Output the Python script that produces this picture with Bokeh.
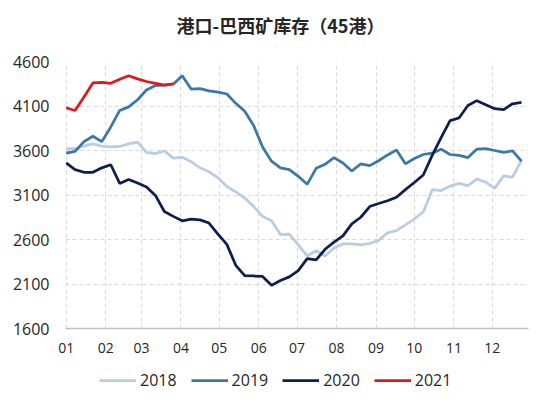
from bokeh.plotting import figure
from bokeh.models import Range1d, FixedTicker, Legend, LegendItem, Label
from bokeh.layouts import column
from bokeh.embed import file_html
from bokeh.resources import INLINE

title_text = "港口-巴西矿库存（45港）"
months = ["01", "02", "03", "04", "05", "06", "07", "08", "09", "10", "11", "12"]
month_start_day = [0, 31, 59, 90, 120, 151, 181, 212, 243, 273, 304, 334]
y_ticks = [1600, 2100, 2600, 3100, 3600, 4100, 4600]
series_names = ["2018", "2019", "2020", "2021"]

weeks = list(range(52))

s2018 = [3620, 3620, 3650, 3675, 3650, 3640, 3645, 3675, 3695, 3580,
         3565, 3595, 3515, 3525, 3475, 3405, 3360, 3295, 3195, 3135,
         3065, 2970, 2860, 2810, 2655, 2660, 2540, 2415, 2475, 2415,
         2505, 2550, 2550, 2540, 2555, 2590, 2675, 2700, 2765, 2830,
         2910, 3160, 3150, 3200, 3230, 3205, 3280, 3245, 3175, 3315,
         3300, 3490]

s2019 = [3570, 3590, 3700, 3760, 3700, 3865, 4050, 4090, 4170, 4280,
         4330, 4335, 4345, 4440, 4290, 4295, 4270, 4255, 4235, 4130,
         4040, 3880, 3640, 3480, 3405, 3385, 3310, 3220, 3400, 3445,
         3520, 3460, 3370, 3450, 3430, 3485, 3550, 3605, 3450, 3510,
         3555, 3570, 3615, 3555, 3545, 3520, 3615, 3620, 3600, 3580,
         3595, 3480]

s2020 = [3460, 3385, 3355, 3355, 3405, 3440, 3230, 3275, 3235, 3190,
         3095, 2915, 2860, 2810, 2830, 2820, 2785, 2660, 2545, 2310,
         2195, 2190, 2185, 2085, 2140, 2180, 2250, 2385, 2370, 2490,
         2570, 2640, 2775, 2850, 2970, 3005, 3035, 3075, 3160, 3240,
         3325, 3545, 3745, 3935, 3965, 4105, 4160, 4115, 4070, 4060,
         4125, 4140]

s2021 = [4080, 4050, 4200, 4360, 4365, 4355, 4400, 4440, 4405, 4375,
         4355, 4335, 4350]

colors = ["#b8cde3", "#3a78a8", "#0e1f4e", "#e0161b"]
series = [s2018, s2019, s2020, s2021]

day = [w * 7 for w in weeks]

font = "Open Sans"


def strip(height):
    f = figure(width=550, height=height, output_backend="svg", toolbar_location=None,
               x_axis_location=None, y_axis_location=None,
               min_border_left=0, min_border_right=0, min_border_top=0,
               min_border_bottom=0, x_range=Range1d(0, 1), y_range=Range1d(0, 1))
    f.title.text = ""
    f.outline_line_color = None
    f.xgrid.visible = False
    f.ygrid.visible = False
    f.border_fill_color = "white"
    f.background_fill_color = "white"
    return f


# title strip
t = strip(40)
t.add_layout(Label(x=215, y=16, x_units="screen", y_units="screen", text=title_text,
                   text_align="center", text_baseline="middle",
                   text_font="Noto Sans CJK SC", text_font_style="bold",
                   text_font_size="18px", text_color="#262626"))

# main chart
p = figure(width=550, height=320, output_backend="svg", toolbar_location=None,
           x_range=Range1d(-0.5, 362.5), y_range=Range1d(1600, 4600),
           min_border_left=65, min_border_right=22, min_border_top=21,
           min_border_bottom=32)
p.title.text = ""
p.outline_line_color = None
p.background_fill_color = "white"
p.border_fill_color = "white"

p.yaxis.ticker = FixedTicker(ticks=y_ticks)
p.yaxis.axis_line_color = None
p.yaxis.major_tick_line_color = None
p.yaxis.minor_tick_line_color = None
p.yaxis.major_label_text_font = font
p.yaxis.major_label_text_font_size = "16px"
p.yaxis.major_label_text_color = "#262626"
p.yaxis.major_label_standoff = 10

p.xaxis.ticker = FixedTicker(ticks=month_start_day)
p.xaxis.major_label_overrides = {d: m for d, m in zip(month_start_day, months)}
p.xaxis.axis_line_color = "#bfbfbf"
p.xaxis.axis_line_width = 1.5
p.xaxis.major_tick_line_color = None
p.xaxis.minor_tick_line_color = None
p.xaxis.major_label_text_font = font
p.xaxis.major_label_text_font_size = "14px"
p.xaxis.major_label_text_color = "#262626"
p.xaxis.major_label_standoff = 8

p.xgrid.ticker = FixedTicker(ticks=month_start_day)
p.ygrid.ticker = FixedTicker(ticks=y_ticks[1:])
for g in (p.xgrid, p.ygrid):
    g.grid_line_color = "#d9d9d9"
    g.grid_line_dash = "4 3"
    g.grid_line_width = 1

for vals, c in zip(series, colors):
    p.line(day[:len(vals)], vals, line_color=c, line_width=2.75)

# legend strip (its lines carry the data but fall outside its empty view)
q = strip(50)
items = []
for name, vals, c in zip(series_names, series, colors):
    r = q.line(day[:len(vals)], vals, line_color=c, line_width=2.75)
    items.append(LegendItem(label=name, renderers=[r]))

legend = Legend(items=items, orientation="horizontal", location=(34, 19))
legend.glyph_width = 37
legend.glyph_height = 20
legend.label_standoff = 4
legend.spacing = 14
legend.padding = 0
legend.margin = 0
legend.border_line_color = None
legend.background_fill_alpha = 0
legend.label_text_font = font
legend.label_text_font_size = "16px"
legend.label_text_color = "#262626"
q.add_layout(legend)

open("out.html", "w").write(file_html(column(t, p, q, spacing=0), INLINE))
